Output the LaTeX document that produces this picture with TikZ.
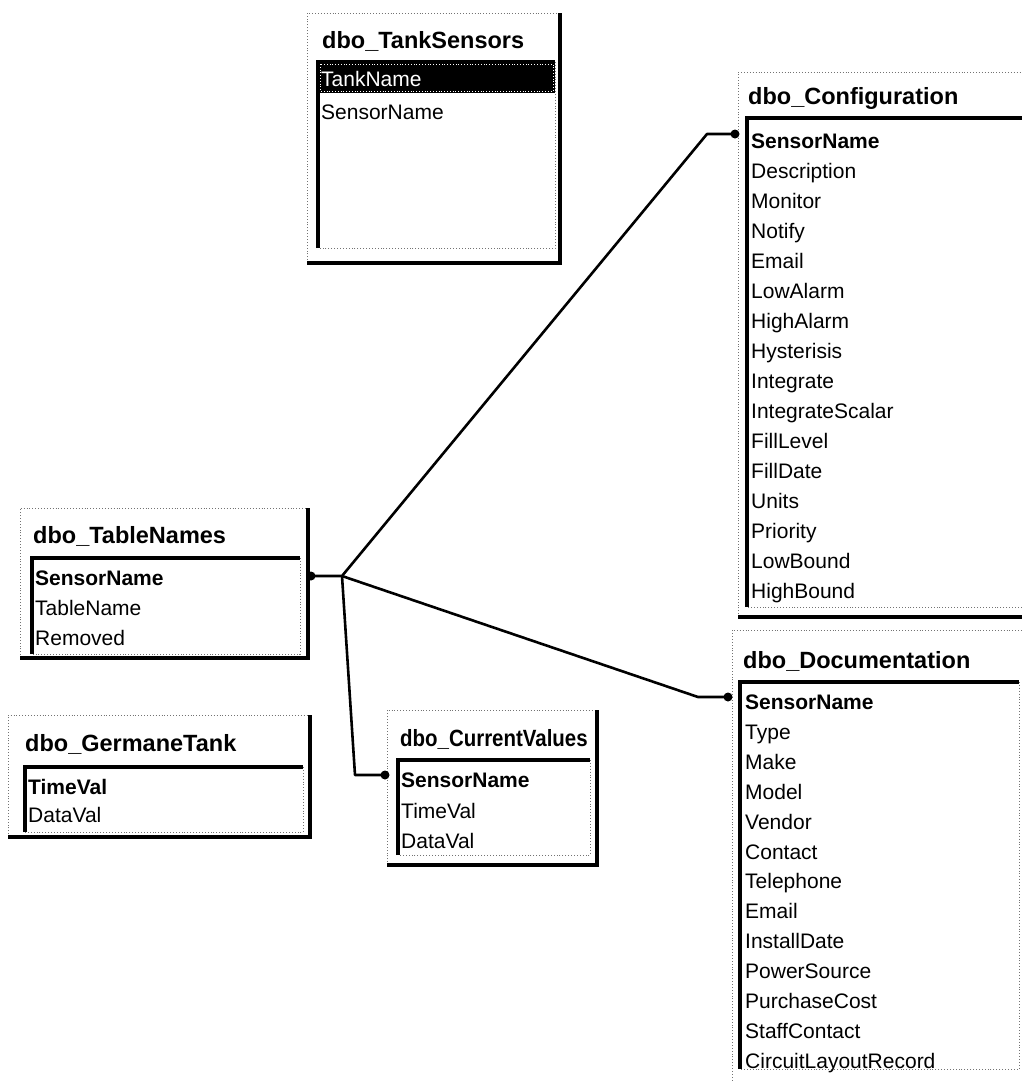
\documentclass[tikz,border=0pt]{standalone}
\usepackage{fontspec}
\usepackage{graphicx}
\setmainfont{Liberation Sans}
\newcommand\erfieldfont{\fontsize{21}{21}\selectfont}
\newcommand\ertitlefont{\fontsize{23.5}{24}\selectfont\bfseries}
\newcommand\erbox[8]{%
  \draw[dotb] (#1,#4) -- (#1,#2) -- (#3,#2);
  \draw[thickb] (#3,#2) -- (#3,#4) -- (#1,#4);
  \draw[thickb] (#5,#8) -- (#5,#6) -- (#7,#6);
  \draw[dotb] (#7,#6) -- (#7,#8) -- (#5,#8);
}
\begin{document}
\begin{tikzpicture}[x=1pt,y=-1pt,
  dotb/.style={draw=black!55, dotted, line width=0.9pt},
  thickb/.style={draw=black, line width=4pt},
  fld/.style={anchor=base west, inner sep=0pt, font=\erfieldfont},
  keyfld/.style={fld, font=\erfieldfont\bfseries},
  ttl/.style={anchor=base west, inner sep=0pt, font=\ertitlefont},
  conn/.style={draw=black, line width=2.6pt, line join=round},
  pin/.style={circle, fill=black, minimum size=9pt, inner sep=0pt}]
\useasboundingbox (0,0) rectangle (1022,1082);
\clip (0,0) rectangle (1022,1082);
\fill[white] (0,0) rectangle (1022,1082);

% dbo_TankSensors
\erbox{307}{13}{560}{263}{318}{62}{555}{248}
\node[ttl] (tsT) at (322,48.5) {dbo\_TankSensors};
\fill[black] (318,62) rectangle (555,93);
\draw[white, dotted, line width=0.8pt] (320,64) rectangle (553,91);
\node[fld, text=white] (ts0) at (321,86.5) {TankName};
\node[fld] (ts1) at (321,119.5) {SensorName};

% dbo_TableNames
\erbox{20}{508}{308}{658}{32}{558}{300}{654}
\node[ttl] (tnT) at (33,543.5) {dbo\_TableNames};
\node[keyfld] (tn0) at (35,585.5) {SensorName};
\node[fld] (tn1) at (35,615.5) {TableName};
\node[fld] (tn2) at (35,645.5) {Removed};

% dbo_GermaneTank
\erbox{8}{715}{310}{837}{25}{767}{303}{832}
\node[ttl] (gtT) at (25,751.5) {dbo\_GermaneTank};
\node[keyfld] (gt0) at (28,794.5) {TimeVal};
\node[fld] (gt1) at (28,822.5) {DataVal};

% dbo_CurrentValues
\erbox{387}{710}{597}{865}{398}{760}{590}{855}
\node[ttl] (cvT) at (400,746.5) {\scalebox{0.87}[1]{dbo\_CurrentValues}};
\node[keyfld] (cv0) at (401,787.5) {SensorName};
\node[fld] (cv1) at (401,818.5) {TimeVal};
\node[fld] (cv2) at (401,848.5) {DataVal};

% dbo_Configuration
\erbox{738}{72}{1040}{617}{747}{118}{1040}{607}
\node[ttl] (cfT) at (748,104.5) {dbo\_Configuration};
\node[keyfld] (cf0) at (751,148.5) {SensorName};
\foreach \t [count=\i] in {Description,Monitor,Notify,Email,LowAlarm,HighAlarm,Hysterisis,Integrate,IntegrateScalar,FillLevel,FillDate,Units,Priority,LowBound,HighBound}
  \node[fld] (cf\i) at (751,148.5+30*\i) {\t};

% dbo_Documentation
\erbox{732}{630}{1040}{1095}{740}{682}{1019}{1069}
\node[ttl] (dcT) at (743,668.5) {dbo\_Documentation};
\node[keyfld] (dc0) at (745,709.5) {SensorName};
\foreach \t [count=\i] in {Type,Make,Model,Vendor,Contact,Telephone,Email,InstallDate,PowerSource,PurchaseCost,StaffContact,CircuitLayoutRecord}
  \node[fld] (dc\i) at (745,709.5+29.9*\i) {\t};

% connectors
\coordinate (J) at (342,576);
\coordinate (cfgB) at (707,134);
\coordinate (docB) at (698,697);
\coordinate (cvB) at (355,775);
\node[pin] (pTN) at (311,576) {};
\node[pin] (pCfg) at (735,134) {};
\node[pin] (pDoc) at (728,697) {};
\node[pin] (pCV) at (385,775) {};
\draw[conn] (pTN.center) -- (J) -- (cfgB) -- (pCfg.center);
\draw[conn] (J) -- (docB) -- (pDoc.center);
\draw[conn] (J) -- (cvB) -- (pCV.center);
\end{tikzpicture}
\end{document}
